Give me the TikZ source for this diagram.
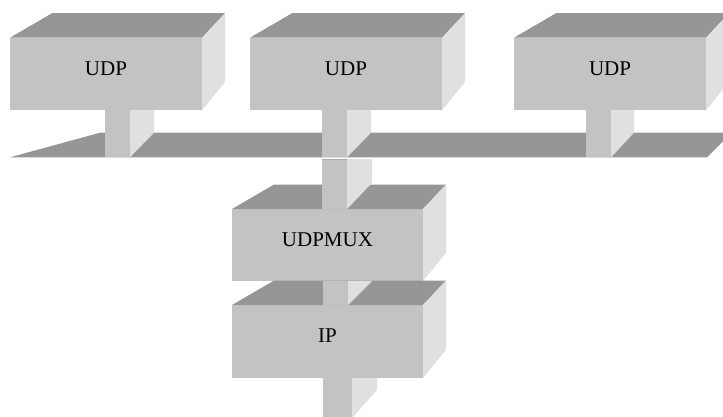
\documentclass[tikz,border=0pt]{standalone}
\usepackage{fontspec}
\setmainfont{Liberation Serif}
\usetikzlibrary{calc}

\definecolor{faceFront}{HTML}{C3C3C3}
\definecolor{faceTop}{HTML}{969696}
\definecolor{faceSide}{HTML}{E0E0E0}
\definecolor{seamGrey}{HTML}{ABABAB}

\tikzset{
  front/.style={fill=faceFront, draw=none, inner sep=0pt, outer sep=0pt, anchor=north west},
  topface/.style={fill=faceTop},
  sideface/.style={fill=faceSide},
  lbl/.style={font=\fontsize{21}{24}\selectfont, text=black, inner sep=0pt},
}

% top and right faces of a block whose front face is node #1
\newcommand\blockfaces[1]{%
  \fill[topface] (#1.north west) -- ++(42,-24.5) -- ($(#1.north east)+(23,-24.5)$) -- (#1.north east) -- cycle;
  \fill[sideface] (#1.north east) -- ++(23,-24.5) -- ($(#1.south east)+(23,-28)$) -- (#1.south east) -- cycle;
}
% right face of a column whose front face is node #1, side depth #2, foot rise #3
\newcommand\columnside[3]{%
  \fill[sideface] (#1.north east) -- ++(#2,0) -- ($(#1.south east)+(#2,-#3)$) -- (#1.south east) -- cycle;
}

\begin{document}
\begin{tikzpicture}[x=1pt, y=-1pt]
  \useasboundingbox (0,0) rectangle (723,416);
  \clip (0,0) rectangle (723,416);

  % upper row of UDP blocks
  \node[front, minimum width=192, minimum height=72.5] (udpA) at (10,37.7) {};
  \blockfaces{udpA}
  \node[front, minimum width=192, minimum height=72.5] (udpB) at (250,37.7) {};
  \blockfaces{udpB}
  \node[front, minimum width=192, minimum height=72.5] (udpC) at (514,37.7) {};
  \blockfaces{udpC}
  \node[lbl] at ([yshift=5.5pt]udpA.center) {UDP};
  \node[lbl] at ([yshift=5.5pt]udpB.center) {UDP};
  \node[lbl] at ([yshift=5.5pt]udpC.center) {UDP};

  % shared bus
  \coordinate (busBL) at (10,157.3);
  \coordinate (busTL) at (100,132.7);
  \coordinate (busTR) at (731.5,132.7);
  \coordinate (busBR) at (707,157.3);
  \fill[topface] (busBL) -- (busTL) -- (busTR) -- (busBR) -- cycle;

  % columns from the UDP blocks down to the bus
  \node[front, minimum width=25, minimum height=47.3] (colA) at (105,110) {};
  \columnside{colA}{24}{24.6}
  \node[front, minimum width=25, minimum height=47.3] (colB) at (322,110) {};
  \columnside{colB}{24}{24.6}
  \node[front, minimum width=25, minimum height=47.3] (colC) at (586,110) {};
  \columnside{colC}{23}{24.6}

  % UDPMUX block
  \node[front, minimum width=191, minimum height=72] (mux) at (232,209) {};
  \blockfaces{mux}
  \node[lbl] at ([yshift=5.5pt]mux.center) {UDPMUX};

  % column from the bus down to UDPMUX
  \node[front, minimum width=25, minimum height=50] (colBus) at (322,159) {};
  \columnside{colBus}{25}{26}
  \draw[seamGrey, line width=1pt] (colBus.north west) -- (colBus.north east);

  % IP block
  \node[front, minimum width=191, minimum height=73] (ip) at (232,305) {};
  \blockfaces{ip}
  \node[lbl] at ([yshift=5.5pt]ip.center) {IP};

  % column from UDPMUX down to IP
  \node[front, minimum width=25, minimum height=24] (colMux) at (323,281) {};
  \columnside{colMux}{24}{24}

  % column leaving IP at the bottom
  \node[front, minimum width=29, minimum height=40] (colIp) at (323,378) {};
  \columnside{colIp}{25}{28}
\end{tikzpicture}
\end{document}
